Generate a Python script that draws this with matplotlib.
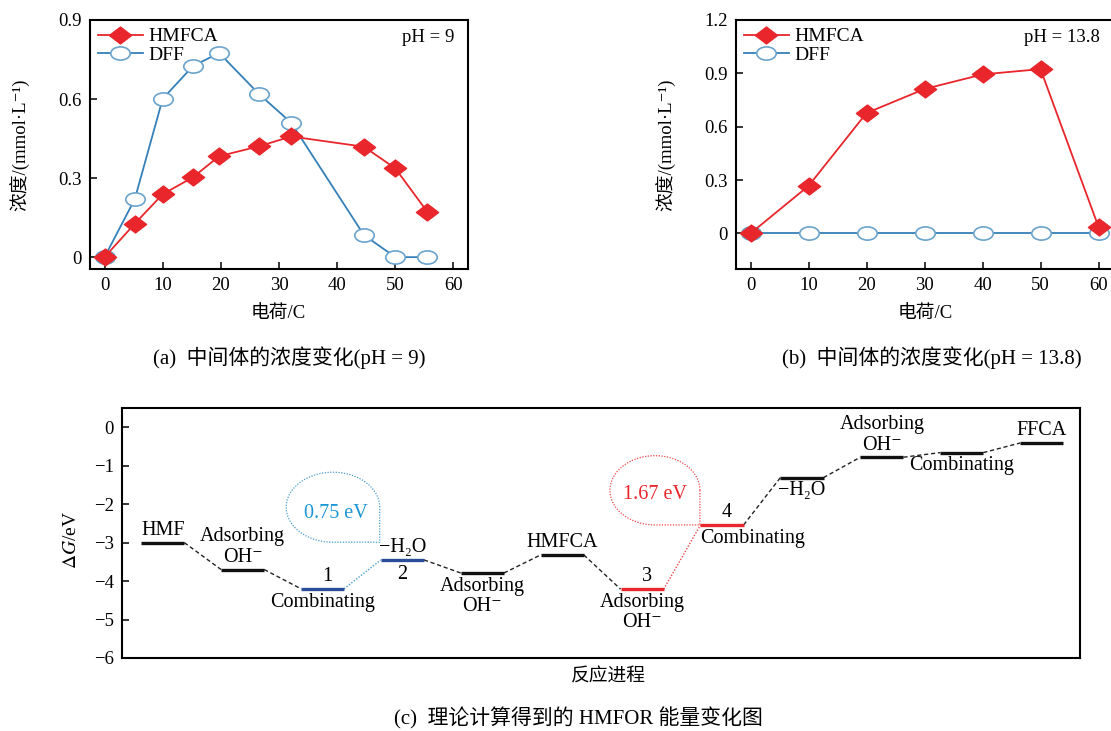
import numpy as np
import matplotlib
matplotlib.use('Agg')
import matplotlib.pyplot as plt
from matplotlib.path import Path

plt.rcParams['font.family'] = ['Liberation Serif', 'Noto Sans CJK SC', 'DejaVu Serif']
plt.rcParams['mathtext.fontset'] = 'stix'
plt.rcParams['axes.unicode_minus'] = True

# (a) pH = 9
charge_a = [0, 5.2, 10, 15.2, 19.7, 26.6, 32.1, 44.6, 50, 55.5]
hmfca_a = [0, 0.127, 0.239, 0.303, 0.383, 0.421, 0.458, 0.419, 0.337, 0.172]
dff_a = [0, 0.22, 0.601, 0.725, 0.775, 0.618, 0.51, 0.084, 0, 0]

# (b) pH = 13.8
charge_b = [0, 10, 20, 30, 40, 50, 60]
hmfca_b = [0, 0.267, 0.677, 0.812, 0.894, 0.924, 0.037]
dff_b = [0, 0, 0, 0, 0, 0, 0]

# (c) energy profile
steps = ['HMF', 'Adsorbing\nOH⁻', 'Combinating', '−H₂O', 'Adsorbing\nOH⁻', 'HMFCA',
         'Adsorbing\nOH⁻', 'Combinating', '−H₂O', 'Adsorbing\nOH⁻', 'Combinating', 'FFCA']
energies = [-3.0, -3.70, -4.20, -3.45, -3.79, -3.32, -4.21, -2.54, -1.31, -0.78, -0.66, -0.41]
step_nums = {2: '1', 3: '2', 6: '3', 7: '4'}
barriers = ['0.75 eV', '1.67 eV']

RED = '#e8262b'
BLUE_LINE = '#3580b8'
BLUE_MK = '#6aa3cc'

# squashed markers (the original figure is stretched horizontally)
circ = Path.unit_circle()
ellipse = Path(circ.vertices * [1.0, 0.68], circ.codes)
diamond = Path([(1, 0), (0, 0.76), (-1, 0), (0, -0.76), (1, 0)],
               [Path.MOVETO, Path.LINETO, Path.LINETO, Path.LINETO, Path.CLOSEPOLY])

fig = plt.figure(figsize=(11.11, 7.31), dpi=100)

W, H = 1111, 731


def box(l, t, r, b):
    return [l / W, 1 - b / H, (r - l) / W, (b - t) / H]


def style_axes(ax):
    for s in ax.spines.values():
        s.set_linewidth(1.5)
    ax.tick_params(direction='in', length=5, width=1.1, labelsize=13.5, pad=6,
                   top=False, right=False)


def conc_panel(rect, x, h, d, ylim, yticks, ph):
    ax = fig.add_axes(rect)
    ax.plot(x, d, color=BLUE_LINE, lw=1.3, marker=ellipse, ms=14,
            mfc='white', mec=BLUE_MK, mew=1.2, label='DFF', zorder=2)
    ax.plot(x, h, color=RED, lw=1.3, marker=diamond, ms=16,
            mfc=RED, mec=RED, label='HMFCA', zorder=3)
    ax.set_xlim(-2.5, 62.5)
    ax.set_ylim(*ylim)
    ax.set_xticks([0, 10, 20, 30, 40, 50, 60])
    ax.set_yticks(yticks)
    ax.set_yticklabels(['0' if v == 0 else f'{v:.1f}' for v in yticks])
    style_axes(ax)
    hs, ls = ax.get_legend_handles_labels()
    ax.legend(hs[::-1], ls[::-1], loc='upper left', frameon=False, fontsize=14,
              handlelength=2.3, handletextpad=0.3, labelspacing=0.05,
              borderaxespad=0.0)
    ax.text(0.965, 0.93, ph, transform=ax.transAxes, ha='right', va='center',
            fontsize=13.5)
    return ax


conc_panel(box(90, 20, 468, 269), charge_a, hmfca_a, dff_a, (-0.045, 0.9),
           [0, 0.3, 0.6, 0.9], 'pH = 9')
conc_panel(box(736, 20, 1113, 269), charge_b, hmfca_b, dff_b, (-0.2, 1.2),
           [0, 0.3, 0.6, 0.9, 1.2], 'pH = 13.8')

for xc in (20, 666):
    fig.text(xc / W, 1 - 145 / H, '浓度/(mmol·L⁻¹)', rotation=90,
             ha='center', va='center', fontsize=13.5)
for xc in (278, 925):
    fig.text(xc / W, 1 - 313 / H, '电荷/C', ha='center', va='center', fontsize=13.5)
fig.text(289 / W, 1 - 358 / H, '(a)  中间体的浓度变化(pH = 9)', ha='center',
         va='center', fontsize=15)
fig.text(932 / W, 1 - 358 / H, '(b)  中间体的浓度变化(pH = 13.8)', ha='center',
         va='center', fontsize=15)

# (c)
ax = fig.add_axes(box(122, 408, 1080, 658))
style_axes(ax)
ax.set_xlim(-0.51, 11.48)
ax.set_ylim(-6, 0.5)
ax.set_xticks([])
ax.set_yticks(range(-6, 1))

hw = 0.27
n = len(energies)
for i, e in enumerate(energies):
    if i in (2, 3):
        c = '#2a4d9a'
    elif i in (6, 7):
        c = RED
    else:
        c = '#111111'
    ax.plot([i - hw, i + hw], [e, e], color=c, lw=2.4, solid_capstyle='butt', zorder=3)
    if i < n - 1:
        if i == 2:
            ls, cc = (0, (1, 1.2)), '#4a9fd0'
        elif i == 6:
            ls, cc = (0, (1, 1.2)), '#f04848'
        else:
            ls, cc = (0, (3, 2)), '#222222'
        ax.plot([i + hw, i + 1 - hw], [e, energies[i + 1]], color=cc, lw=1.0,
                linestyle=ls, zorder=2)

above = [True, True, False, True, False, True, False, False, False, True, False, True]
xshift = {7: 0.38}
for i, (lab, e) in enumerate(zip(steps, energies)):
    x = i + xshift.get(i, 0)
    if above[i]:
        ax.text(x, e + 0.07, lab, ha='center', va='bottom', fontsize=14.5,
                linespacing=1.1)
    else:
        ax.text(x, e - 0.1, lab, ha='center', va='top', fontsize=14.5,
                linespacing=1.1)
for i, num in step_nums.items():
    if i == 3:
        ax.text(i, energies[i] - 0.12, num, ha='center', va='top', fontsize=14.5)
    else:
        ax.text(i + 0.06, energies[i] + 0.08, num, ha='center', va='bottom', fontsize=14.5)


def loop(cx, cy, rx, ry, color):
    t = np.linspace(0, 1.5 * np.pi, 120)
    xs = list(cx + rx * np.cos(t)) + [cx + rx, cx + rx]
    ys = list(cy + ry * np.sin(t)) + [cy - ry, cy]
    ax.plot(xs, ys, color=color, lw=0.9, linestyle=(0, (1, 1.2)), zorder=2)


loop(2.13, -2.08, 0.585, 0.91, '#4a9fd0')
loop(6.16, -1.64, 0.563, 0.90, '#f04848')
ax.text(2.17, -2.25, barriers[0], color='#1a96d4', ha='center', va='center', fontsize=14.5)
ax.text(6.16, -1.75, barriers[1], color=RED, ha='center', va='center', fontsize=14.5)

fig.text(72 / W, 1 - 540 / H, r'$\Delta G$/eV', rotation=90, ha='center',
         va='center', fontsize=14)
fig.text(608 / W, 1 - 677 / H, '反应进程', ha='center', va='center', fontsize=13.5)
fig.text(578 / W, 1 - 718 / H, '(c)  理论计算得到的 HMFOR 能量变化图', ha='center',
         va='center', fontsize=15)

fig.savefig('out.png', dpi=100)
